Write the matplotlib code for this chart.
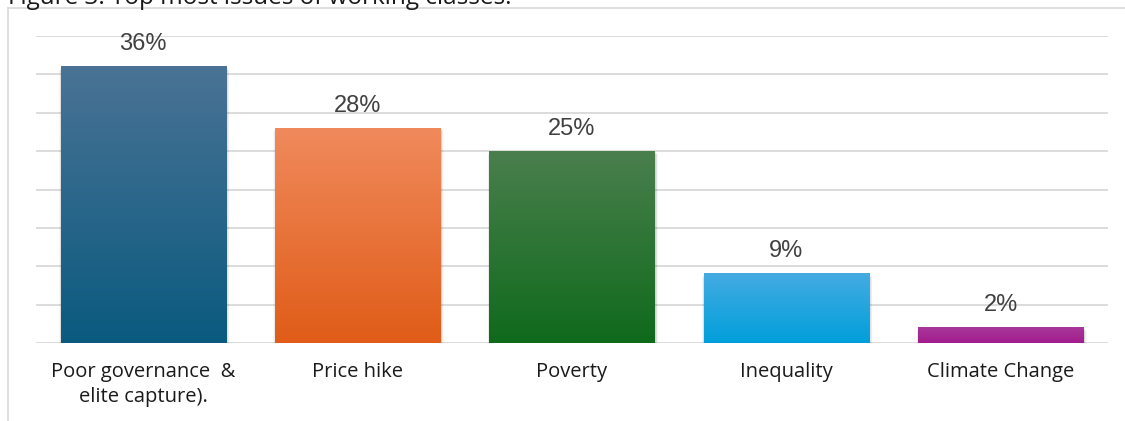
import numpy as np
import matplotlib.pyplot as plt
from matplotlib.colors import LinearSegmentedColormap
from matplotlib.patches import Rectangle

# issues and share of respondents (%)
issues = ['Poor governance  &\nelite capture).', 'Price hike', 'Poverty', 'Inequality', 'Climate Change']
shares = [36, 28, 25, 9, 2]
top_colors = ['#4a7395', '#f08a5c', '#4a7f4d', '#45abe2', '#a8379a']
bottom_colors = ['#0a5a7f', '#e05c18', '#0f6a1c', '#009fdb', '#a21d8e']

plt.rcParams['font.family'] = ['Open Sans', 'DejaVu Sans']

fig = plt.figure(figsize=(11.25, 4.21), dpi=100)
W, H = 1125, 421

# outer frame (left and top edges)
fig.add_artist(plt.Line2D([8 / W, 8 / W], [0, 1 - 8 / H], color='#d9d9d9', lw=1.2))
fig.add_artist(plt.Line2D([8 / W, 1], [1 - 8 / H, 1 - 8 / H], color='#d9d9d9', lw=1.2))

# caption, cut at the top edge
fig.text(8 / W, 1 - 4 / H, 'Figure 3: Top most issues of working classes.',
         fontsize=17.5, color='#1a1a1a', va='baseline', ha='left')

ax = fig.add_axes([36 / W, (H - 343) / H, (1108 - 36) / W, (343 - 36) / H])
for s in ax.spines.values():
    s.set_visible(False)
ax.set_yticks(np.arange(0, 41, 5))
ax.set_yticklabels([])
ax.tick_params(axis='y', length=0)
ax.grid(axis='y', color='#d9d9d9', lw=1.3)
ax.set_axisbelow(True)
ax.set_xticks(range(len(issues)))
ax.set_xticklabels(issues, fontsize=14.5, color='#1a1a1a', linespacing=1.3)
ax.tick_params(axis='x', length=0, pad=14)

bw = 0.77
for i, (v, c1, c2) in enumerate(zip(shares, top_colors, bottom_colors)):
    x0 = i - bw / 2
    # soft shadow
    for k, a in enumerate([0.06, 0.05, 0.04, 0.03]):
        d = 0.006 * (k + 1)
        ax.add_patch(Rectangle((x0 - d / 2 + 0.004, -0.25 - 0.08 * k), bw + d, v + 0.1,
                               color='black', alpha=a, lw=0, zorder=2))
    cmap = LinearSegmentedColormap.from_list('g%d' % i, [c2, c1])
    grad = np.linspace(0, 1, 256).reshape(-1, 1)
    ax.imshow(grad, cmap=cmap, origin='lower', aspect='auto',
              extent=[x0, x0 + bw, 0, v], zorder=3)
    ax.text(i, v + 1.5, f'{v}%', ha='center', va='bottom', fontsize=17,
            color='#404040', family=['Liberation Sans', 'DejaVu Sans'], zorder=4)

ax.set_xlim(-0.5, len(issues) - 0.5)
ax.set_ylim(0, 40)

fig.savefig('out.png', dpi=100)
